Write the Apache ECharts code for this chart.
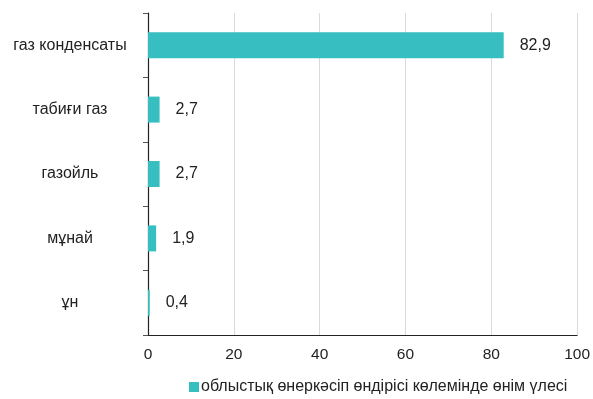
<!DOCTYPE html>
<html><head><meta charset="utf-8">
<script src="https://cdn.jsdelivr.net/npm/echarts@6/dist/echarts.min.js"></script>
<style>html,body{margin:0;padding:0;background:#fff}#c{width:593px;height:399px}</style>
</head><body><div id="c"></div>
<script>
const categories = ['газ конденсаты', 'табиғи газ', 'газойль', 'мұнай', 'ұн'];
const values = [82.9, 2.7, 2.7, 1.9, 0.4];
const seriesName = 'облыстық өнеркәсіп өндірісі көлемінде өнім үлесі';
const xTicks = { min: 0, max: 100, interval: 20 };

const chart = echarts.init(document.getElementById('c'));
const font = 'Liberation Sans, Arial, sans-serif';
chart.setOption({
  animation: false,
  textStyle: { fontFamily: font },
  grid: { left: 148, right: 15, top: 13, bottom: 64 },
  legend: {
    data: [{ name: seriesName, icon: 'rect' }],
    left: 189, top: 379,
    padding: 0,
    itemWidth: 10, itemHeight: 10,
    textStyle: { fontSize: 16, color: '#222', fontFamily: font, padding: [0, 0, 0, -3] }
  },
  xAxis: {
    type: 'value', min: xTicks.min, max: xTicks.max, interval: xTicks.interval,
    axisLine: { show: true, lineStyle: { color: '#222', width: 1.2 } },
    axisTick: { show: false },
    axisLabel: { fontSize: 15.5, color: '#222', margin: 12, fontFamily: font },
    splitLine: { lineStyle: { color: '#d9d9d9' } }
  },
  yAxis: {
    type: 'category', data: categories, inverse: true,
    axisLine: { show: true, lineStyle: { color: '#222', width: 1.2 } },
    axisTick: { show: true, length: 5, lineStyle: { color: '#555' } },
    axisLabel: { fontSize: 16, color: '#222', align: 'center', margin: 78, fontFamily: font },
    splitLine: { show: false }
  },
  series: [{
    name: seriesName, type: 'bar', data: values, barWidth: 26,
    itemStyle: { color: '#36BEC1' },
    label: {
      show: true, position: 'right', distance: 16, fontSize: 16, color: '#222', fontFamily: font,
      formatter: p => String(p.value).replace('.', ',')
    }
  }]
});
</script></body></html>
